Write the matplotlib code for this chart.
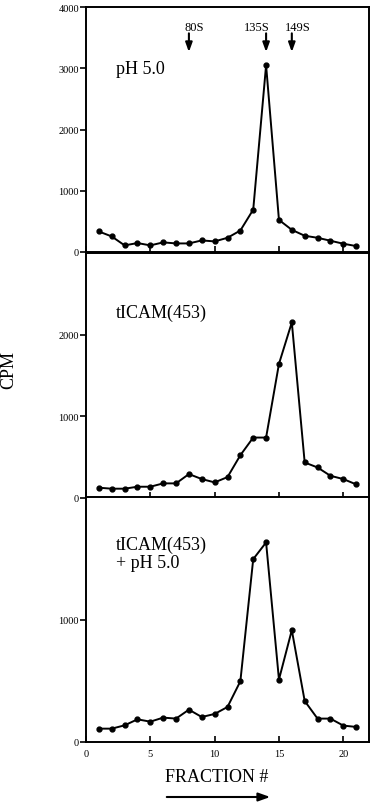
import matplotlib
matplotlib.use("Agg")
import matplotlib.pyplot as plt

plt.rcParams["font.family"] = ["Liberation Serif", "DejaVu Serif"]

fractions = list(range(1, 22))

ph50 = [335, 254, 108, 146, 108, 157, 140, 140, 189, 173, 232,
        351, 692, 3049, 524, 362, 265, 232, 184, 135, 97]
ticam = [126, 114, 114, 138, 138, 179, 179, 293, 232, 191, 256,
         524, 740, 740, 1642, 2150, 435, 374, 272, 232, 167]
ticam_ph50 = [109, 109, 136, 185, 166, 199, 191, 264, 204, 229, 286,
              496, 1493, 1629, 510, 913, 335, 191, 191, 134, 123]

panel_labels = ["pH 5.0", "tICAM(453)", "tICAM(453)\n+ pH 5.0"]
panel_ymax = [4000, 3000, 2000]
panel_yticks = [[0, 1000, 2000, 3000, 4000], [0, 1000, 2000], [0, 1000]]
markers_s = ["80S", "135S", "149S"]
markers_x = [8, 14, 16]
marker_label_x = [8.4, 13.3, 16.5]
xticks = [0, 5, 10, 15, 20]

W, H = 374, 804
fig = plt.figure(figsize=(W / 100, H / 100), dpi=100)

left = 86 / W
width = (369 - 86) / W
ph = 245 / H
bottoms = [(H - 253) / H, (H - 499) / H, (H - 743) / H]

axes = []
for i, series in enumerate([ph50, ticam, ticam_ph50]):
    ax = fig.add_axes([left, bottoms[i], width, ph])
    ax.plot(fractions, series, color="black", lw=1.4, marker="o", ms=3.5,
            clip_on=False)
    ax.set_xlim(0, 22)
    ax.set_ylim(0, panel_ymax[i])
    ax.set_xticks(xticks)
    ax.set_yticks(panel_yticks[i])
    ax.tick_params(axis="x", direction="in", length=4, width=1.2,
                   labelsize=7.5, pad=5)
    ax.tick_params(axis="y", direction="out", length=4, width=1.2,
                   labelsize=7.5, pad=1)
    for s in ax.spines.values():
        s.set_linewidth(1.4)
    if i < 2:
        ax.tick_params(axis="x", labelbottom=False)
    axes.append(ax)

# panel labels
axes[0].text(2.33, 2922, panel_labels[0], fontsize=13, va="baseline")
axes[1].text(2.33, 2220, panel_labels[1], fontsize=13, va="baseline")
axes[2].text(2.33, 1574, "tICAM(453)", fontsize=13, va="baseline")
axes[2].text(2.33, 1426, "+ pH 5.0", fontsize=13, va="baseline")

# sedimentation markers
for name, xm, xl in zip(markers_s, markers_x, marker_label_x):
    axes[0].text(xl, 3630, name, fontsize=9, ha="center", va="baseline")
    axes[0].annotate("", xy=(xm, 3265), xytext=(xm, 3570),
                     arrowprops=dict(arrowstyle="-|>,head_length=0.55,head_width=0.2",
                                     color="black", lw=1.5,
                                     shrinkA=0, shrinkB=0))

fig.text(9 / W, 1 - 370 / H, "CPM", rotation=90, fontsize=13,
         ha="center", va="center")
fig.text(217 / W, 1 - 778 / H, "FRACTION #", fontsize=13,
         ha="center", va="center")
fig.add_artist(matplotlib.patches.FancyArrowPatch(
    (164 / W, 1 - 798 / H), (273 / W, 1 - 798 / H),
    transform=fig.transFigure, arrowstyle="-|>,head_length=7,head_width=2.5",
    color="black", lw=1.5))

fig.savefig("out.png", dpi=100)
